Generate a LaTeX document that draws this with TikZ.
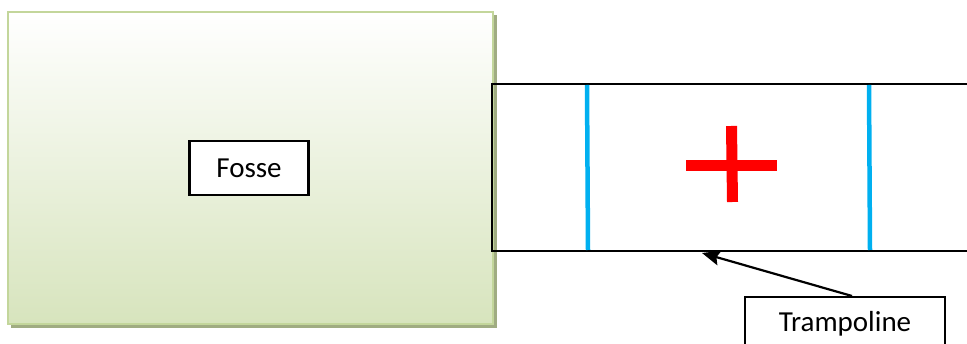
\documentclass[tikz,border=0pt]{standalone}
\usepackage{fontspec}
\setmainfont{Carlito}
\usetikzlibrary{positioning,arrows.meta}

\definecolor{pitedge}{RGB}{195,214,155}
\definecolor{pitfill}{RGB}{215,228,189}
\definecolor{pitshadow}{RGB}{160,172,130}
\definecolor{matline}{RGB}{0,176,240}

\begin{document}
\begin{tikzpicture}[x=1pt,y=-1pt,
    label box/.style={draw=black, line width=2.2pt, fill=white, minimum width=119pt,
      minimum height=54pt, inner sep=0pt, font=\fontsize{29}{34}\selectfont},
    mat line/.style={matline, line width=4.5pt},
    cross bar/.style={red, line width=11pt}]

\clip (0,0) rectangle (967,344);
\fill[white] (0,0) rectangle (967,344);

% ======================================
% THE PIT (FOSSE)
% ======================================
\fill[pitshadow] (11,15) rectangle (497,328);
\shade[top color=white, bottom color=pitfill, middle color=pitfill!50!white]
  (8,12) rectangle (493,324);
\draw[pitedge, line width=2pt] (8,12) rectangle (493,324);

\node[label box] (fosse) at (249,168) {Fosse};

% ======================================
% THE TRAMPOLINE MAT
% ======================================
\draw[line width=2.2pt] (975,84) -- (492,84) -- (492,251) -- (975,251);
\draw[mat line] (587,85) -- (588,250);
\draw[mat line] (869,85) -- (870,250);

% red cross in the middle
\draw[cross bar] (686,165.5) -- (777,165.5);
\draw[cross bar] (731.5,126) -- (732.5,202);

% ======================================
% THE LABEL
% ======================================
\node[label box, minimum width=200pt, anchor=north] (tramp) at (845,296) {Trampoline};
\coordinate (matedge) at (702,253);
\draw[line width=2.2pt, -{Stealth[length=18pt,width=15pt,inset=3pt]}] ([xshift=7pt]tramp.north) -- (matedge);

\end{tikzpicture}
\end{document}
